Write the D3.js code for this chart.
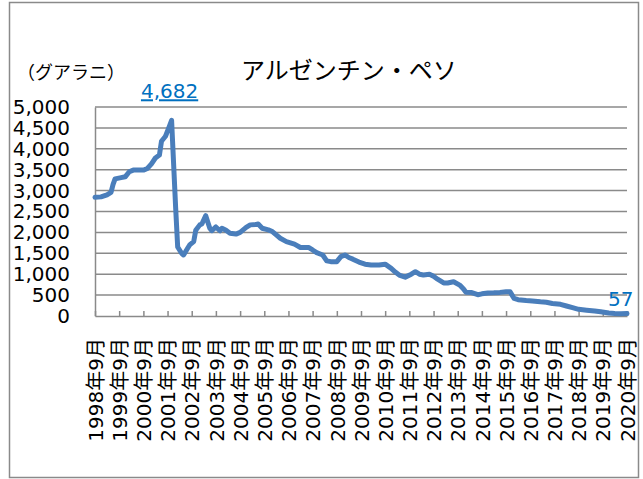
<!DOCTYPE html>
<html>
<head>
<meta charset="utf-8">
<script src="https://cdn.jsdelivr.net/npm/d3@7"></script>
<style>
  body { margin: 0; background: #fff; }
  text { font-family: "DejaVu Sans", "Noto Sans CJK JP", sans-serif; }
</style>
</head>
<body>
<div id="chart"></div>
<script>
// chart data
var months = ["1998-09","1998-12","1999-03","1999-05","1999-06","1999-07","1999-10","1999-12",
  "2000-02","2000-04","2000-09","2000-11","2001-01","2001-03","2001-05","2001-06","2001-08",
  "2001-10","2001-11","2002-01","2002-02","2002-04","2002-05","2002-07","2002-08","2002-10",
  "2002-11","2003-01","2003-02","2003-04","2003-06","2003-07","2003-09","2003-11","2003-12",
  "2004-02","2004-04","2004-07","2004-09","2004-12","2005-02","2005-05","2005-06","2005-08",
  "2005-11","2006-01","2006-03","2006-05","2006-08","2006-10","2006-12","2007-03","2007-07",
  "2007-09","2007-11","2008-02","2008-04","2008-06","2008-09","2008-11","2009-01","2009-03",
  "2009-05","2009-08","2009-11","2010-02","2010-06","2010-09","2010-12","2011-02","2011-04",
  "2011-07","2011-10","2011-12","2012-02","2012-04","2012-07","2012-09","2012-11","2013-02",
  "2013-04","2013-07","2013-10","2013-12","2014-01","2014-04","2014-07","2014-09","2014-12",
  "2015-03","2015-06","2015-09","2015-11","2015-12","2016-01","2016-03","2016-07","2016-10",
  "2017-02","2017-05","2017-08","2017-12","2018-03","2018-06","2018-09","2019-01","2019-05",
  "2019-08","2019-12","2020-03","2020-06","2020-09"];
var values = [2840,2850,2900,2960,3150,3280,3310,3330,
  3450,3490,3490,3530,3640,3780,3850,4180,4300,
  4550,4682,2600,1650,1500,1460,1620,1700,1780,
  2050,2180,2200,2400,2100,2040,2130,2040,2100,
  2050,1980,1960,2000,2120,2180,2190,2200,2100,
  2060,2020,1940,1860,1780,1750,1720,1640,1640,
  1580,1515,1460,1320,1300,1300,1420,1460,1400,
  1360,1290,1240,1220,1220,1240,1140,1050,980,
  930,1000,1060,1000,980,1000,950,880,790,
  790,820,740,640,570,560,510,530,550,
  555,565,580,580,500,420,390,370,360,
  340,330,300,280,240,200,160,140,120,
  100,70,60,55,57];
var tickYears = [1998,1999,2000,2001,2002,2003,2004,2005,2006,2007,2008,
  2009,2010,2011,2012,2013,2014,2015,2016,2017,2018,2019,2020];
var yTicks = [0,500,1000,1500,2000,2500,3000,3500,4000,4500,5000];
var title = "アルゼンチン・ペソ";
var unitLabel = "（グアラニ）";

var svgWidth = 643;
var svgHeight = 479;

// plot area
var plot = { left: 95, right: 627, top: 107, bottom: 316 };

var svg = d3.select("#chart")
  .append("svg")
  .attr("width", svgWidth)
  .attr("height", svgHeight);

// outer chart border
svg.append("rect")
  .attr("x", 9.5)
  .attr("y", 2.5)
  .attr("width", 629)
  .attr("height", 475)
  .attr("fill", "white")
  .attr("stroke", "#8a8a8a")
  .attr("stroke-width", 1.5);

var parseMonth = d3.timeParse("%Y-%m");
var data = months.map(function(m, i) {
  return { date: parseMonth(m), value: values[i] };
});
var tickDates = tickYears.map(function(y) { return new Date(y, 8, 1); });

var xScale = d3.scaleTime()
  .domain([tickDates[0], tickDates[tickDates.length - 1]])
  .range([plot.left, plot.right]);

var yScale = d3.scaleLinear()
  .domain([0, 5000])
  .range([plot.bottom, plot.top]);

// horizontal gridlines
svg.append("g")
  .selectAll("line")
  .data(yTicks.filter(function(d) { return d > 0; }))
  .enter()
  .append("line")
  .attr("x1", plot.left)
  .attr("x2", plot.right)
  .attr("y1", d => yScale(d))
  .attr("y2", d => yScale(d))
  .attr("stroke", "#8a8a8a")
  .attr("stroke-width", 1.5);

// y axis
var leftAxis = d3.axisLeft(yScale)
  .tickValues(yTicks)
  .tickSize(0)
  .tickPadding(25)
  .tickFormat(d3.format(","));
var yAxis = svg.append("g")
  .attr("transform", `translate(${plot.left}, 0)`)
  .call(leftAxis);
yAxis.select(".domain").attr("stroke", "#8a8a8a").attr("stroke-width", 1.5);
yAxis.selectAll("text")
  .attr("font-size", "20px")
  .attr("fill", "black")
  .style("font-family", "DejaVu Sans");

// x axis, ticks pointing inside
var bottomAxis = d3.axisBottom(xScale)
  .tickValues(tickDates)
  .tickSizeInner(-5)
  .tickSizeOuter(0)
  .tickFormat(d3.timeFormat("%Y年%-m月"));
var xAxis = svg.append("g")
  .attr("transform", `translate(0, ${plot.bottom})`)
  .call(bottomAxis);
xAxis.select(".domain").attr("stroke", "#8a8a8a").attr("stroke-width", 1.5);
xAxis.selectAll(".tick line").attr("stroke", "#8a8a8a").attr("stroke-width", 1.5);
xAxis.selectAll("text")
  .attr("font-size", "20px")
  .attr("fill", "black")
  .attr("text-anchor", "end")
  .attr("transform", "translate(0, 22) rotate(-90)")
  .attr("x", 0)
  .attr("y", 0)
  .attr("dy", "0.36em");

// the series line
var line = d3.line()
  .x(d => xScale(d.date))
  .y(d => yScale(d.value));

svg.append("path")
  .datum(data)
  .attr("d", line)
  .attr("fill", "none")
  .attr("stroke", "#4a7ebb")
  .attr("stroke-width", 5)
  .attr("stroke-linejoin", "round")
  .attr("stroke-linecap", "round");

// data labels for max and last point
var peak = data[d3.maxIndex(data, d => d.value)];
var last = data[data.length - 1];

svg.append("text")
  .attr("x", xScale(peak.date) - 2)
  .attr("y", yScale(peak.value) - 22)
  .attr("text-anchor", "middle")
  .attr("font-size", "20px")
  .attr("fill", "#0070c0")
  .style("text-decoration", "underline")
  .text(d3.format(",")(peak.value));

svg.append("text")
  .attr("x", xScale(last.date) - 19)
  .attr("y", yScale(last.value) - 8)
  .attr("font-size", "20px")
  .attr("fill", "#0070c0")
  .text(d3.format(",")(last.value));

// titles
svg.append("text")
  .attr("x", 349)
  .attr("y", 79)
  .attr("text-anchor", "middle")
  .attr("font-size", "24px")
  .attr("fill", "black")
  .style("font-family", "Noto Sans CJK JP")
  .text(title);

svg.append("text")
  .attr("x", 17)
  .attr("y", 79)
  .attr("font-size", "18px")
  .attr("fill", "black")
  .style("font-family", "Noto Sans CJK JP")
  .text(unitLabel);
</script>
</body>
</html>
